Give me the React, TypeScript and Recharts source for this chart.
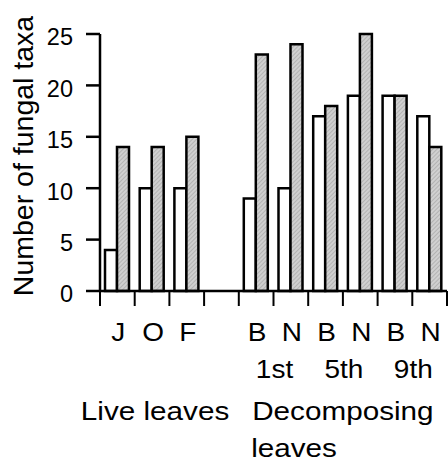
import React from 'react';
import { BarChart, Bar, XAxis, YAxis } from 'recharts';

// categories along the x axis ('' is the empty slot between the two groups)
const categories = ['J', 'O', 'F', '', 'B', 'N', 'B', 'N', 'B', 'N'];
const openValues = [4, 10, 10, null, 9, 10, 17, 19, 19, 17];
const hatchedValues = [14, 14, 15, null, 23, 24, 18, 25, 19, 14];
const yTicks = [0, 5, 10, 15, 20, 25];
const stageLabels: Record<number, string> = { 5: '1st', 7: '5th', 9: '9th' };

const data = categories.map((cat, i) => ({
  cat: cat || ' ' + i,
  label: cat,
  open: openValues[i],
  hatched: hatchedValues[i],
}));

const FONT = '"Liberation Sans", Arial, Helvetica, sans-serif';
const STRETCH = 'scale(1.12,1)';

const XTick = (props: any) => {
  const { x, y, payload, index } = props;
  const half = payload && payload.offset ? payload.offset : 17.35;
  const label = categories[index];
  const stage = stageLabels[index];
  return (
    <g>
      <line x1={x - half} y1={y} x2={x - half} y2={y + 15} stroke="#000" strokeWidth={2} />
      {index === categories.length - 1 && (
        <line x1={x + half} y1={y} x2={x + half} y2={y + 15} stroke="#000" strokeWidth={2} />
      )}
      {label && (
        <text transform={`translate(${x + 1},${y + 50}) ${STRETCH}`} textAnchor="middle" fontSize={25} fontFamily={FONT} fill="#000">
          {label}
        </text>
      )}
      {stage && (
        <text transform={`translate(${x - half + 1},${y + 87}) ${STRETCH}`} textAnchor="middle" fontSize={25} fontFamily={FONT} fill="#000">
          {stage}
        </text>
      )}
      {index === 1 && (
        <text transform={`translate(${x + 3},${y + 129}) ${STRETCH}`} textAnchor="middle" fontSize={26.5} fontFamily={FONT} fill="#000">
          Live leaves
        </text>
      )}
      {index === 4 && (
        <g>
          <text transform={`translate(${x - 4},${y + 129}) ${STRETCH}`} textAnchor="start" fontSize={26.5} fontFamily={FONT} fill="#000">
            Decomposing
          </text>
          <text transform={`translate(${x - 5},${y + 166}) ${STRETCH}`} textAnchor="start" fontSize={26.5} fontFamily={FONT} fill="#000">
            leaves
          </text>
        </g>
      )}
    </g>
  );
};

const YLabel = () => (
  <text
    transform="translate(33,156) rotate(-90)"
    textAnchor="middle"
    fontSize={28.5}
    fontFamily={FONT}
    fill="#000"
  >
    Number of fungal taxa
  </text>
);

export default function App() {
  return (
    <div style={{ position: 'absolute', left: 0, top: 0, background: '#fff' }}>
      <BarChart
        width={448}
        height={463}
        data={data}
        margin={{ top: 34, right: 1, left: 0, bottom: 0 }}
        barGap={0}
      >
        <defs>
          <pattern id="hatch" width="3" height="3" patternUnits="userSpaceOnUse" patternTransform="rotate(45)">
            <rect width="3" height="3" fill="#d0d0d0" />
            <line x1="0" y1="0" x2="0" y2="3" stroke="#a0a0a0" strokeWidth="1.2" />
          </pattern>
        </defs>
        <XAxis
          dataKey="cat"
          height={172}
          axisLine={{ stroke: '#000', strokeWidth: 2.5 }}
          tickLine={false}
          tickSize={0}
          tickMargin={0}
          interval={0}
          tick={<XTick />}
        />
        <YAxis
          width={100}
          domain={[0, 25]}
          ticks={yTicks}
          interval={0}
          axisLine={{ stroke: '#000', strokeWidth: 2.5 }}
          tickLine={{ stroke: '#000', strokeWidth: 2.5 }}
          tickSize={14}
          tickMargin={13}
          tick={{ fill: '#000', fontSize: 23.5, fontFamily: FONT, dy: 3 }}
          label={{ content: () => <YLabel /> }}
        />
        <Bar dataKey="open" fill="#fff" stroke="#000" strokeWidth={2.5} barSize={12} isAnimationActive={false} />
        <Bar dataKey="hatched" fill="url(#hatch)" stroke="#000" strokeWidth={2.5} barSize={12} isAnimationActive={false} />
      </BarChart>
    </div>
  );
}
